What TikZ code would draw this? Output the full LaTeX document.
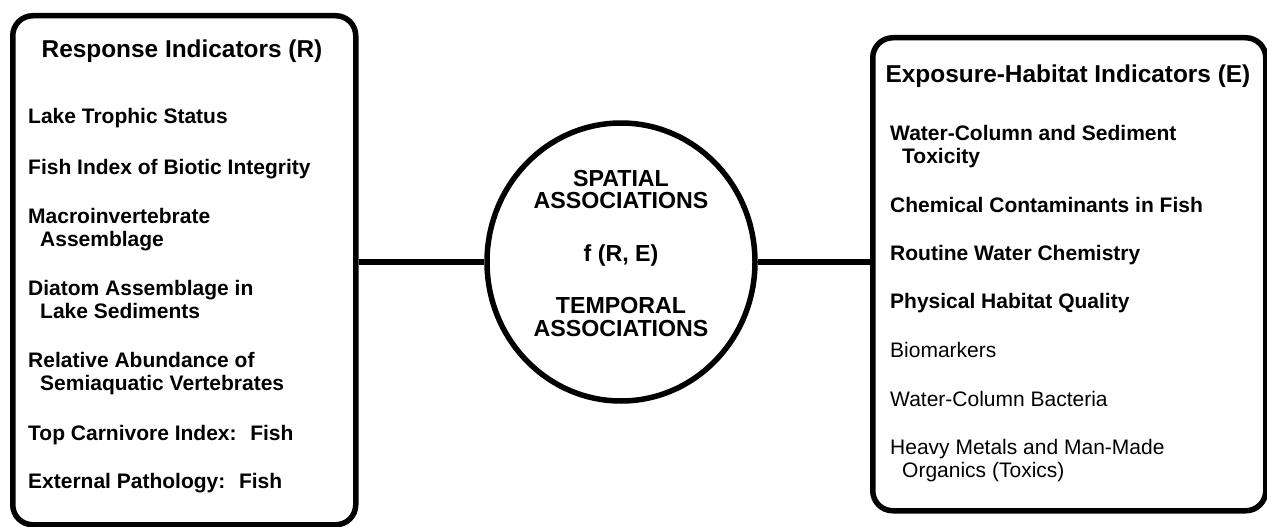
\documentclass[tikz,border=0pt]{standalone}
\usepackage{fontspec}
\setmainfont{Liberation Sans}
\usetikzlibrary{shapes.geometric}
\newcommand\twolines[2]{\vtop{\hbox{#1}\hbox{\hspace*{12pt}#2}}}
\begin{document}
\begin{tikzpicture}[x=1pt,y=-1pt,
  frame/.style={draw, line width=5.5pt, rounded corners=20pt, inner sep=0pt, anchor=north west},
  item/.style={anchor=base west, inner sep=0pt, font=\fontsize{21}{23}\selectfont\bfseries},
  itemr/.style={anchor=base west, inner sep=0pt, font=\fontsize{21}{23}\selectfont},
  head/.style={anchor=base, inner sep=0pt, font=\fontsize{24.4}{27}\selectfont\bfseries},
  ctext/.style={anchor=base, inner sep=0pt, font=\fontsize{23.2}{25}\selectfont\bfseries},
  link/.style={line width=5.5pt}]
\useasboundingbox (0,0) rectangle (1267,527);
% boxes
\node[frame, minimum width=343pt, minimum height=509pt] (R) at (10,13) {};
\node[frame, minimum width=393pt, minimum height=473pt] (E) at (870,35) {};
\node[draw, ellipse, line width=5.5pt, minimum width=268pt, minimum height=278pt, inner sep=0pt] (C) at (621,262) {};
% connectors
\draw[link] (R.east |- C.west) -- (C.west);
\draw[link] (C.east) -- (C.east -| E.west);
% left box
\node[head] (rh) at (182,58) {Response Indicators (R)};
\node[item] (r1) at (28,124) {Lake Trophic Status};
\node[item] (r2) at (28,174) {Fish Index of Biotic Integrity};
\node[item] (r3) at (28,223) {\twolines{Macroinvertebrate}{Assemblage}};
\node[item] (r4) at (28,295) {\twolines{Diatom Assemblage in}{Lake Sediments}};
\node[item] (r5) at (28,367) {\twolines{Relative Abundance of}{Semiaquatic Vertebrates}};
\node[item] (r6) at (28,440) {Top Carnivore Index:~ Fish};
\node[item] (r7) at (28,488) {External Pathology:~ Fish};
% circle
\node[ctext] (c1) at (621,186) {SPATIAL};
\node[ctext] (c2) at (621,208) {ASSOCIATIONS};
\node[ctext] (c3) at (621,261) {f (R, E)};
\node[ctext] (c4) at (621,313) {TEMPORAL};
\node[ctext] (c5) at (621,336) {ASSOCIATIONS};
% right box
\node[head] (eh) at (1068,83) {Exposure-Habitat Indicators (E)};
\node[item] (e1) at (890,140) {\twolines{Water-Column and Sediment}{Toxicity}};
\node[item] (e2) at (890,212) {Chemical Contaminants in Fish};
\node[item] (e3) at (890,260) {Routine Water Chemistry};
\node[item] (e4) at (890,308) {Physical Habitat Quality};
\node[itemr] (e5) at (890,357) {Biomarkers};
\node[itemr] (e6) at (890,406) {Water-Column Bacteria};
\node[itemr] (e7) at (890,454) {\twolines{Heavy Metals and Man-Made}{Organics (Toxics)}};
\end{tikzpicture}
\end{document}
